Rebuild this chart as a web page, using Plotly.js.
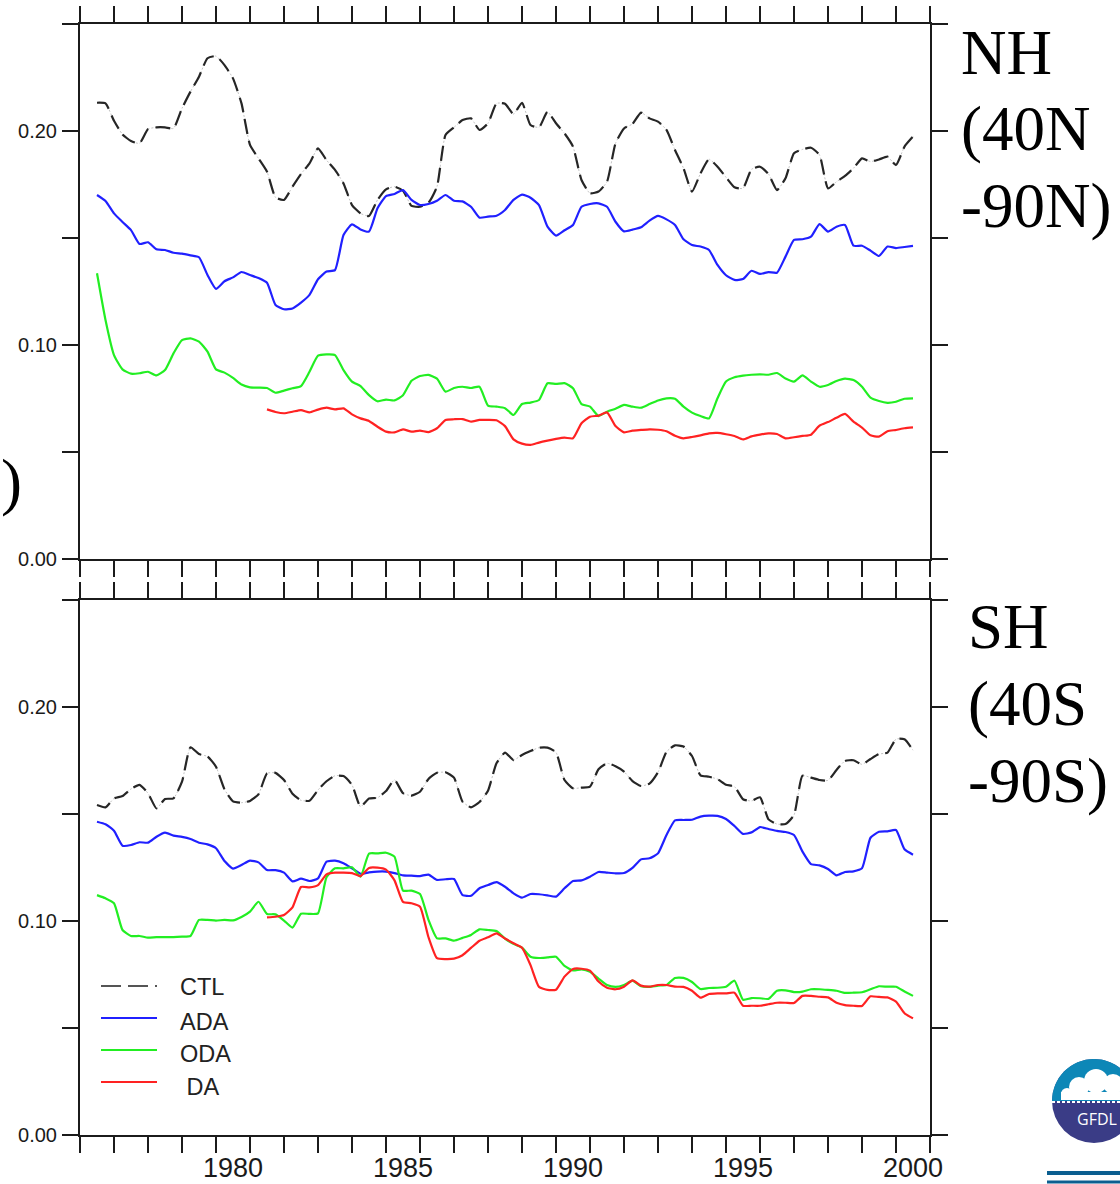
<!DOCTYPE html>
<html>
<head>
<meta charset="utf-8">
<script src="https://cdn.plot.ly/plotly-3.0.1.min.js"></script>
<style>
  html, body { margin: 0; padding: 0; background: #ffffff; }
  #chart { width: 1120px; height: 1184px; }
</style>
</head>
<body>
<div id="chart"></div>
<script>
// Quarterly samples of the 12-month running-mean RMS error, 1976.0 - 2000.0
const START_YEAR = 1976;
const DA_START_YEAR = 1981;
const STEP = 0.25;

// Northern Hemisphere (40N-90N)
const NH_CTL = [
  0.2132, 0.2129, 0.2048, 0.1984, 0.1953, 0.1942, 0.2009, 0.2017,
  0.2017, 0.2012, 0.2106, 0.2184, 0.2254, 0.2340, 0.2350, 0.2308,
  0.2246, 0.2129, 0.1935, 0.1872, 0.1810, 0.1690, 0.1678, 0.1740,
  0.1799, 0.1849, 0.1919, 0.1864, 0.1818, 0.1755, 0.1654, 0.1615,
  0.1603, 0.1678, 0.1727, 0.1740, 0.1721, 0.1650, 0.1646, 0.1665,
  0.1740, 0.1981, 0.2017, 0.2051, 0.2059, 0.2005, 0.2036, 0.2129,
  0.2127, 0.2079, 0.2132, 0.2028, 0.2017, 0.2090, 0.2036, 0.1989,
  0.1927, 0.1771, 0.1709, 0.1717, 0.1763, 0.1942, 0.2012, 0.2033,
  0.2086, 0.2059, 0.2044, 0.2005, 0.1911, 0.1826, 0.1717, 0.1802,
  0.1868, 0.1833, 0.1784, 0.1737, 0.1732, 0.1821, 0.1833, 0.1799,
  0.1724, 0.1779, 0.1896, 0.1914, 0.1922, 0.1888, 0.1732, 0.1763,
  0.1790, 0.1826, 0.1872, 0.1857, 0.1867, 0.1880, 0.1841, 0.1927,
  0.1974
];
const NH_ADA = [
  0.1701, 0.1673, 0.1615, 0.1575, 0.1537, 0.1472, 0.1480, 0.1447,
  0.1444, 0.1431, 0.1427, 0.1419, 0.1410, 0.1327, 0.1262, 0.1298,
  0.1316, 0.1341, 0.1327, 0.1313, 0.1291, 0.1187, 0.1167, 0.1171,
  0.1198, 0.1234, 0.1307, 0.1343, 0.1350, 0.1514, 0.1564, 0.1540,
  0.1530, 0.1639, 0.1696, 0.1706, 0.1724, 0.1678, 0.1654, 0.1659,
  0.1674, 0.1701, 0.1674, 0.1671, 0.1646, 0.1595, 0.1600, 0.1604,
  0.1631, 0.1678, 0.1703, 0.1688, 0.1654, 0.1553, 0.1511, 0.1536,
  0.1561, 0.1646, 0.1659, 0.1662, 0.1646, 0.1576, 0.1531, 0.1539,
  0.1550, 0.1581, 0.1603, 0.1587, 0.1561, 0.1494, 0.1467, 0.1460,
  0.1444, 0.1374, 0.1326, 0.1304, 0.1308, 0.1347, 0.1332, 0.1341,
  0.1338, 0.1413, 0.1491, 0.1494, 0.1506, 0.1565, 0.1530, 0.1553,
  0.1561, 0.1464, 0.1464, 0.1441, 0.1416, 0.1460, 0.1453, 0.1458,
  0.1463
];
const NH_ODA = [
  0.1335, 0.1117, 0.0953, 0.0886, 0.0866, 0.0868, 0.0875, 0.0858,
  0.0883, 0.0961, 0.1023, 0.1031, 0.1016, 0.0969, 0.0886, 0.0871,
  0.0846, 0.0815, 0.0802, 0.0801, 0.0799, 0.0777, 0.0787, 0.0798,
  0.0808, 0.0875, 0.0950, 0.0956, 0.0953, 0.0883, 0.0829, 0.0808,
  0.0766, 0.0737, 0.0745, 0.0741, 0.0765, 0.0833, 0.0855, 0.0860,
  0.0843, 0.0782, 0.0799, 0.0805, 0.0799, 0.0805, 0.0717, 0.0712,
  0.0705, 0.0673, 0.0724, 0.0731, 0.0743, 0.0821, 0.0818, 0.0822,
  0.0798, 0.0724, 0.0712, 0.0668, 0.0688, 0.0702, 0.0720, 0.0712,
  0.0707, 0.0724, 0.0741, 0.0751, 0.0749, 0.0712, 0.0684, 0.0668,
  0.0657, 0.0751, 0.0829, 0.0849, 0.0857, 0.0861, 0.0863, 0.0861,
  0.0869, 0.0843, 0.0829, 0.0858, 0.0829, 0.0805, 0.0813, 0.0832,
  0.0843, 0.0836, 0.0805, 0.0754, 0.0738, 0.0730, 0.0735, 0.0749,
  0.0751
];
const NH_DA = [
  0.0699, 0.0687, 0.0681, 0.0688, 0.0696, 0.0685, 0.0698, 0.0707,
  0.0699, 0.0704, 0.0676, 0.0657, 0.0645, 0.0618, 0.0595, 0.0592,
  0.0606, 0.0595, 0.0600, 0.0593, 0.0611, 0.0650, 0.0653, 0.0654,
  0.0642, 0.0650, 0.0650, 0.0648, 0.0621, 0.0559, 0.0539, 0.0533,
  0.0544, 0.0553, 0.0561, 0.0567, 0.0564, 0.0634, 0.0665, 0.0670,
  0.0685, 0.0621, 0.0592, 0.0600, 0.0603, 0.0606, 0.0604, 0.0597,
  0.0576, 0.0564, 0.0570, 0.0578, 0.0587, 0.0589, 0.0583, 0.0575,
  0.0559, 0.0573, 0.0581, 0.0587, 0.0584, 0.0564, 0.0569, 0.0575,
  0.0581, 0.0623, 0.0640, 0.0660, 0.0678, 0.0642, 0.0614, 0.0578,
  0.0572, 0.0597, 0.0603, 0.0611, 0.0615
];

// Southern Hemisphere (40S-90S)
const SH_CTL = [
  0.1542, 0.1531, 0.1573, 0.1584, 0.1617, 0.1636, 0.1597, 0.1526,
  0.1570, 0.1573, 0.1651, 0.1812, 0.1780, 0.1769, 0.1721, 0.1615,
  0.1559, 0.1553, 0.1561, 0.1592, 0.1690, 0.1692, 0.1659, 0.1595,
  0.1564, 0.1562, 0.1612, 0.1653, 0.1679, 0.1677, 0.1636, 0.1534,
  0.1572, 0.1576, 0.1607, 0.1660, 0.1597, 0.1586, 0.1604, 0.1664,
  0.1693, 0.1695, 0.1670, 0.1558, 0.1531, 0.1556, 0.1609, 0.1737,
  0.1787, 0.1752, 0.1776, 0.1794, 0.1810, 0.1810, 0.1788, 0.1659,
  0.1620, 0.1623, 0.1628, 0.1709, 0.1737, 0.1723, 0.1698, 0.1654,
  0.1631, 0.1642, 0.1695, 0.1791, 0.1821, 0.1815, 0.1771, 0.1681,
  0.1674, 0.1663, 0.1637, 0.1628, 0.1569, 0.1561, 0.1578, 0.1475,
  0.1453, 0.1453, 0.1495, 0.1679, 0.1670, 0.1659, 0.1657, 0.1706,
  0.1748, 0.1751, 0.1732, 0.1757, 0.1780, 0.1787, 0.1850, 0.1849,
  0.1798
];
const SH_ADA = [
  0.1464, 0.1452, 0.1422, 0.1352, 0.1355, 0.1368, 0.1366, 0.1394,
  0.1413, 0.1399, 0.1393, 0.1383, 0.1366, 0.1358, 0.1340, 0.1280,
  0.1245, 0.1262, 0.1282, 0.1274, 0.1238, 0.1238, 0.1226, 0.1185,
  0.1198, 0.1187, 0.1199, 0.1277, 0.1282, 0.1270, 0.1246, 0.1221,
  0.1227, 0.1231, 0.1231, 0.1224, 0.1213, 0.1212, 0.1210, 0.1217,
  0.1192, 0.1195, 0.1196, 0.1121, 0.1118, 0.1153, 0.1168, 0.1182,
  0.1160, 0.1129, 0.1109, 0.1126, 0.1125, 0.1120, 0.1114, 0.1153,
  0.1187, 0.1190, 0.1207, 0.1229, 0.1226, 0.1223, 0.1224, 0.1248,
  0.1288, 0.1293, 0.1316, 0.1402, 0.1470, 0.1472, 0.1473, 0.1488,
  0.1492, 0.1491, 0.1477, 0.1444, 0.1407, 0.1414, 0.1439, 0.1430,
  0.1421, 0.1416, 0.1402, 0.1324, 0.1266, 0.1260, 0.1243, 0.1213,
  0.1229, 0.1232, 0.1246, 0.1389, 0.1417, 0.1419, 0.1425, 0.1335,
  0.1310
];
const SH_ODA = [
  0.1121, 0.1106, 0.1083, 0.0958, 0.0930, 0.0930, 0.0922, 0.0925,
  0.0925, 0.0925, 0.0927, 0.0930, 0.1005, 0.1005, 0.1002, 0.1005,
  0.1003, 0.1019, 0.1044, 0.1090, 0.1033, 0.1031, 0.1002, 0.0969,
  0.1034, 0.1033, 0.1036, 0.1204, 0.1246, 0.1246, 0.1251, 0.1207,
  0.1315, 0.1316, 0.1319, 0.1301, 0.1142, 0.1142, 0.1126, 0.1005,
  0.0919, 0.0919, 0.0908, 0.0921, 0.0935, 0.0961, 0.0958, 0.0953,
  0.0918, 0.0893, 0.0875, 0.0833, 0.0827, 0.0830, 0.0833, 0.0790,
  0.0769, 0.0774, 0.0763, 0.0731, 0.0701, 0.0692, 0.0701, 0.0721,
  0.0695, 0.0692, 0.0698, 0.0701, 0.0734, 0.0734, 0.0715, 0.0682,
  0.0687, 0.0688, 0.0693, 0.0721, 0.0632, 0.0640, 0.0639, 0.0636,
  0.0674, 0.0676, 0.0668, 0.0670, 0.0681, 0.0681, 0.0678, 0.0674,
  0.0664, 0.0665, 0.0667, 0.0681, 0.0695, 0.0693, 0.0693, 0.0671,
  0.0650
];
const SH_DA = [
  0.1017, 0.1020, 0.1028, 0.1064, 0.1159, 0.1157, 0.1168, 0.1218,
  0.1226, 0.1226, 0.1224, 0.1210, 0.1248, 0.1249, 0.1240, 0.1190,
  0.1089, 0.1083, 0.1067, 0.0924, 0.0826, 0.0822, 0.0824, 0.0840,
  0.0874, 0.0908, 0.0924, 0.0942, 0.0918, 0.0896, 0.0875, 0.0794,
  0.0692, 0.0678, 0.0679, 0.0740, 0.0776, 0.0777, 0.0768, 0.0717,
  0.0688, 0.0681, 0.0693, 0.0723, 0.0698, 0.0693, 0.0701, 0.0701,
  0.0693, 0.0692, 0.0674, 0.0642, 0.0659, 0.0662, 0.0662, 0.0665,
  0.0604, 0.0604, 0.0604, 0.0611, 0.0618, 0.0618, 0.0617, 0.0650,
  0.0650, 0.0646, 0.0643, 0.0618, 0.0607, 0.0604, 0.0603, 0.0648,
  0.0645, 0.0643, 0.0623, 0.0569, 0.0545
];

const YEAR_LABELS = [1980, 1985, 1990, 1995, 2000];
const Y_TICKS = [0, 0.05, 0.10, 0.15, 0.20, 0.25];
const Y_TICK_TEXT = ['0.00', '', '0.10', '', '0.20', ''];
const SERIES_NAMES = ['CTL', 'ADA', 'ODA', ' DA'];
const NH_LABEL = ['NH', '(40N', '-90N)'];
const SH_LABEL = ['SH', '(40S', '-90S)'];

// ---------------------------------------------------------------------------
const W = 1120, H = 1184;
const fx = p => p / W;          // pixel column -> paper x
const fy = p => 1 - p / H;      // pixel row    -> paper y
const INK = '#1b1b1b';
const SANS = 'Liberation Sans, Arial, sans-serif';
const SERIF = 'Liberation Serif, Times New Roman, serif';

const STYLE = {
  CTL: { color: '#262626', width: 2.2, dash: '15px,7px' },
  ADA: { color: '#2020ff', width: 2.2, dash: 'solid' },
  ODA: { color: '#22ee22', width: 2.2, dash: 'solid' },
  DA:  { color: '#ff2222', width: 2.2, dash: 'solid' }
};

function timeAxis(start, n) {
  return Array.from({ length: n }, (_, i) => start + i * STEP);
}

function line(name, start, values, xa, ya, override) {
  const s = Object.assign({}, STYLE[name], override || {});
  return {
    type: 'scatter', mode: 'lines', name: name,
    x: timeAxis(start, values.length), y: values,
    xaxis: xa, yaxis: ya, showlegend: false, hoverinfo: 'skip',
    line: { color: s.color, width: s.width, dash: s.dash, shape: 'spline', smoothing: 0.5 }
  };
}

// the control run is a dashed curve over a faint dotted trail
const CTL_TRAIL = { color: '#c4c4c4', width: 1, dash: '2px,2px' };

const traces = [
  line('CTL', START_YEAR, NH_CTL, 'x', 'y', CTL_TRAIL),
  line('CTL', START_YEAR, NH_CTL, 'x', 'y'),
  line('ADA', START_YEAR, NH_ADA, 'x', 'y'),
  line('ODA', START_YEAR, NH_ODA, 'x', 'y'),
  line('DA', DA_START_YEAR, NH_DA, 'x', 'y'),
  line('CTL', START_YEAR, SH_CTL, 'x2', 'y2', CTL_TRAIL),
  line('CTL', START_YEAR, SH_CTL, 'x2', 'y2'),
  line('ADA', START_YEAR, SH_ADA, 'x2', 'y2'),
  line('ODA', START_YEAR, SH_ODA, 'x2', 'y2'),
  line('DA', DA_START_YEAR, SH_DA, 'x2', 'y2')
];

const X_RANGE = [1975.5, 2000.5];
const PLOT_LEFT = 80, PLOT_RIGHT = 930;

const xFrame = (anchor) => ({
  anchor: anchor, domain: [fx(PLOT_LEFT), fx(PLOT_RIGHT)], range: X_RANGE,
  tickmode: 'linear', tick0: 1975.5, dtick: 1,
  ticks: 'outside', ticklen: 16, tickwidth: 2, tickcolor: INK,
  showticklabels: false, showline: true, linewidth: 2, linecolor: INK,
  mirror: 'ticks', showgrid: false, zeroline: false, fixedrange: true
});

const yFrame = (anchor, top, bottom) => ({
  anchor: anchor, domain: [fy(bottom), fy(top)], range: [0, 0.25],
  tickmode: 'array', tickvals: Y_TICKS, ticktext: Y_TICK_TEXT,
  ticks: 'outside', ticklen: 16, tickwidth: 2, tickcolor: INK,
  ticklabelstandoff: 1,
  tickfont: { family: SANS, size: 20, color: '#1a1a1a' },
  showline: true, linewidth: 2, linecolor: INK,
  mirror: 'ticks', showgrid: false, zeroline: false, fixedrange: true
});

const annotations = [];

// year labels, centred on each year between the yearly tick marks
YEAR_LABELS.forEach(yr => annotations.push({
  xref: 'x2', yref: 'paper', x: yr, y: fy(1168), xanchor: 'center', yanchor: 'middle',
  showarrow: false, text: String(yr), borderpad: 0,
  font: { family: SANS, size: 27, color: '#1a1a1a' }
}));

// region labels on the right, stray bracket on the left
function regionLabel(lines, left, centers) {
  lines.forEach((t, i) => annotations.push({
    xref: 'paper', yref: 'paper', x: fx(left), y: fy(centers[i]),
    xanchor: 'left', yanchor: 'middle', showarrow: false, text: t,
    font: { family: SERIF, size: 63, color: '#000' }
  }));
}
regionLabel(NH_LABEL, 959, [53, 129, 206]);
regionLabel(SH_LABEL, 966, [627, 704, 781]);
annotations.push({
  xref: 'paper', yref: 'paper', x: 0, y: fy(482), xanchor: 'left', yanchor: 'middle',
  showarrow: false, text: ')', borderpad: 0,
  font: { family: SERIF, size: 63, color: '#000' }
});

// ---- legend (lower panel) ----
const shapes = [];
const LEGEND_ROWS = [986, 1018, 1050, 1082];
const LEGEND_TEXT_ROWS = [987, 1022, 1054, 1087];
const legendKeys = ['CTL', 'ADA', 'ODA', 'DA'];
legendKeys.forEach((k, i) => {
  const s = STYLE[k];
  shapes.push({
    type: 'line', xref: 'paper', yref: 'paper',
    x0: fx(101), x1: fx(157), y0: fy(LEGEND_ROWS[i]), y1: fy(LEGEND_ROWS[i]),
    line: { color: k === 'CTL' ? '#555' : s.color, width: 2.2, dash: k === 'CTL' ? '20px,7px' : 'solid' }
  });
  annotations.push({
    xref: 'paper', yref: 'paper', x: fx(178), y: fy(LEGEND_TEXT_ROWS[i]),
    xanchor: 'left', yanchor: 'middle', showarrow: false,
    text: SERIES_NAMES[i].replace(/^ /, '&nbsp;'),
    font: { family: SANS, size: 23.5, color: '#222' }
  });
});

// ---- laboratory badge, lower right ----
const P = (x, y) => fx(x) + ',' + fy(y);
const cx = 1094, cy = 1101, r = 42, k = 0.5523 * r;
shapes.push({
  type: 'circle', xref: 'paper', yref: 'paper',
  x0: fx(cx - r), x1: fx(cx + r), y0: fy(cy + r), y1: fy(cy - r),
  fillcolor: '#3a3c86', line: { width: 0 }
});
shapes.push({
  type: 'path', xref: 'paper', yref: 'paper',
  path: `M ${P(cx - r, cy)} C ${P(cx - r, cy - k)} ${P(cx - k, cy - r)} ${P(cx, cy - r)} ` +
        `C ${P(cx + k, cy - r)} ${P(cx + r, cy - k)} ${P(cx + r, cy)} Z`,
  fillcolor: '#0d87b7', line: { width: 0 }
});
[[-27, -7, 6], [-15, -14, 10], [2, -20, 12], [19, -17, 10], [33, -10, 8]].forEach(([dx, dy, rr]) => {
  shapes.push({
    type: 'circle', xref: 'paper', yref: 'paper',
    x0: fx(cx + dx - rr), x1: fx(cx + dx + rr), y0: fy(cy + dy + rr), y1: fy(cy + dy - rr),
    fillcolor: '#ffffff', line: { width: 0 }
  });
});
shapes.push({
  type: 'rect', xref: 'paper', yref: 'paper',
  x0: fx(cx - 33), x1: fx(cx + 41), y0: fy(cy - 1), y1: fy(cy - 9),
  fillcolor: '#ffffff', line: { width: 0 }
});
shapes.push({
  type: 'line', xref: 'paper', yref: 'paper',
  x0: fx(cx - r), x1: fx(cx + r), y0: fy(cy + 1), y1: fy(cy + 1),
  line: { color: '#ffffff', width: 2, dash: '3px,2px' }
});
annotations.push({
  xref: 'paper', yref: 'paper', x: fx(1097), y: fy(1119), xanchor: 'center', yanchor: 'middle',
  showarrow: false, text: 'GFDL',
  font: { family: 'Open Sans, Liberation Sans, sans-serif', size: 16, color: '#ffffff' }
});
shapes.push({
  type: 'line', xref: 'paper', yref: 'paper', x0: fx(1047), x1: fx(1125),
  y0: fy(1173), y1: fy(1173), line: { color: '#0b5e90', width: 4 }
});
shapes.push({
  type: 'line', xref: 'paper', yref: 'paper', x0: fx(1047), x1: fx(1125),
  y0: fy(1182), y1: fy(1182), line: { color: '#0b5e90', width: 3 }
});

const layout = {
  width: W, height: H,
  margin: { l: 0, r: 0, t: 0, b: 0, pad: 0 },
  paper_bgcolor: '#ffffff', plot_bgcolor: '#ffffff',
  showlegend: false,
  xaxis: xFrame('y'),
  yaxis: yFrame('x', 24, 559),
  xaxis2: xFrame('y2'),
  yaxis2: yFrame('x2', 600, 1135),
  shapes: shapes,
  annotations: annotations
};

Plotly.newPlot('chart', traces, layout, { staticPlot: true, displayModeBar: false });
</script>
</body>
</html>
